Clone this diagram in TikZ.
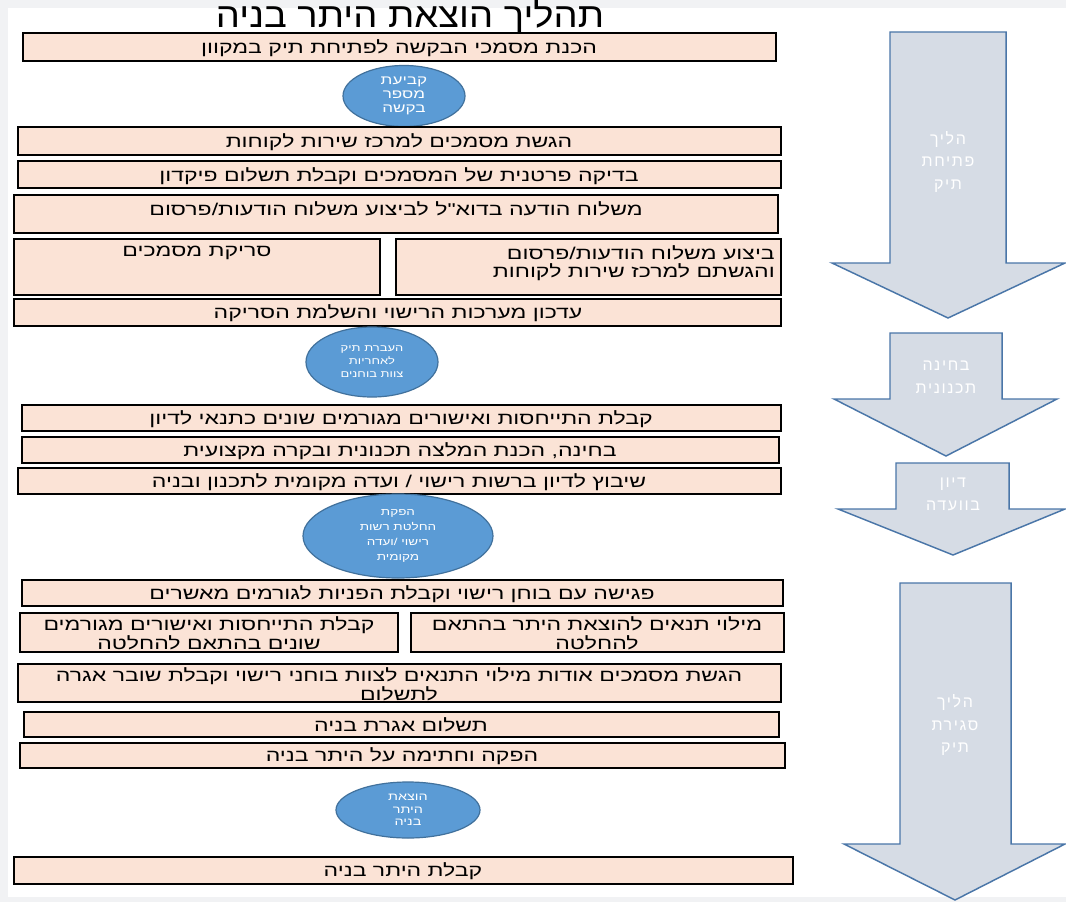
\documentclass[tikz,border=0pt]{standalone}
\usepackage{fontspec}
\setmainfont{Liberation Sans}
\newfontfamily\hebfont[Script=Hebrew,FakeStretch=1.35]{Liberation Sans}
\newfontfamily\titlefont[Script=Hebrew,FakeStretch=1.1]{Liberation Sans}
\newfontfamily\arrfont[Script=Hebrew,LetterSpace=10]{Liberation Sans}
\TeXXeTstate=1
\newcommand{\heb}[1]{\beginR #1\endR}
\usetikzlibrary{shapes.geometric}

\definecolor{boxfill}{HTML}{FBE3D6}
\definecolor{ovalfill}{HTML}{5B9BD5}
\definecolor{ovaldraw}{HTML}{41719C}
\definecolor{arrfill}{HTML}{D6DCE5}
\definecolor{arrdraw}{HTML}{4A76A8}
\definecolor{pagegray}{HTML}{F1F2F4}

\tikzset{
  px/.style 2 args={minimum width=#1*0.75pt, minimum height=#2*0.75pt},
  stepbox/.style={draw=black, line width=1.4pt, fill=boxfill},
  steptext/.style={font=\hebfont\fontsize{12.8}{14}\selectfont, align=center, inner sep=0pt},
  oval/.style={ellipse, draw=ovaldraw, line width=0.9pt, fill=ovalfill, text=white,
    align=center, inner sep=0pt},
  blockarrow/.style={draw=arrdraw, line width=1.1pt, fill=arrfill},
  arrtext/.style={font=\arrfont\fontsize{12}{17}\selectfont, text=white, align=center}
}

\begin{document}
\begin{tikzpicture}[x=0.75pt, y=-0.75pt, every node/.style={font=\hebfont}]
  % page
  \useasboundingbox (0,0) rectangle (1066,902);
  \fill[pagegray] (0,0) rectangle (1066,902);
  \fill[white] (8,8) rectangle (1066,897);

  % title
  \node (title) at (410,17) {\titlefont\fontsize{26}{30}\selectfont\heb{תהליך הוצאת היתר בניה}};

  % opening of the file
  \draw[stepbox] (23,33) rectangle (776,61);
  \node[steptext] (prep) at (399,48) {\heb{הכנת מסמכי הבקשה לפתיחת תיק במקוון}};

  \node[oval, px={122}{61}, font=\hebfont\fontsize{9.5}{10.5}\selectfont] (number) at (404,96)
    {\heb{קביעת}\\\heb{מספר}\\\heb{בקשה}};

  \draw[stepbox] (18,127) rectangle (781,155);
  \node[steptext] (submit) at (399,142) {\heb{הגשת מסמכים למרכז שירות לקוחות}};

  \draw[stepbox] (18,161) rectangle (781,188);
  \node[steptext] (check) at (399,176) {\heb{בדיקה פרטנית של המסמכים וקבלת תשלום פיקדון}};

  \draw[stepbox] (14,195) rectangle (778,233);
  \node[steptext] (mail) at (396,209) {\heb{משלוח הודעה בדוא"ל לביצוע משלוח הודעות/פרסום}};

  \draw[stepbox] (14,239) rectangle (380,295);
  \node[steptext] (scan) at (197,253) {\heb{סריקת מסמכים}};

  \draw[stepbox] (396,239) rectangle (781,295);
  \node[steptext, align=right, anchor=north east] (notice) at (775,245)
    {\heb{ביצוע משלוח הודעות/פרסום}\\\heb{והגשתם למרכז שירות לקוחות}};

  \draw[stepbox] (14,299) rectangle (781,326);
  \node[steptext] (update) at (398,313) {\heb{עדכון מערכות הרישוי והשלמת הסריקה}};

  % technical review
  \node[oval, px={132}{70}, font=\hebfont\fontsize{7.2}{9.8}\selectfont] (handover) at (372,362)
    {\heb{העברת תיק}\\\heb{לאחריות}\\\heb{צוות בוחנים}};

  \draw[stepbox] (22,405) rectangle (781,431);
  \node[steptext] (approvals) at (401,419) {\heb{קבלת התייחסות ואישורים מגורמים שונים כתנאי לדיון}};

  \draw[stepbox] (22,437) rectangle (779,463);
  \node[steptext] (review) at (400,451) {\heb{בחינה, הכנת המלצה תכנונית ובקרה מקצועית}};

  \draw[stepbox] (18,468) rectangle (781,494);
  \node[steptext] (schedule) at (399,482) {\heb{שיבוץ לדיון ברשות רישוי / ועדה מקומית לתכנון ובניה}};

  % committee
  \node[oval, px={190}{84}, font=\hebfont\fontsize{7.5}{11.2}\selectfont] (decision) at (398,536)
    {\heb{הפקת}\\\heb{החלטת רשות}\\\heb{רישוי /ועדה}\\\heb{מקומית}};

  % closing of the file
  \draw[stepbox] (22,580) rectangle (783,606);
  \node[steptext] (meeting) at (402,594) {\heb{פגישה עם בוחן רישוי וקבלת הפניות לגורמים מאשרים}};

  \draw[stepbox] (20,613) rectangle (398,652);
  \node[steptext] (consent) at (209,633) {\heb{קבלת התייחסות ואישורים מגורמים}\\\heb{שונים בהתאם להחלטה}};

  \draw[stepbox] (411,613) rectangle (784,652);
  \node[steptext] (terms) at (597,633) {\heb{מילוי תנאים להוצאת היתר בהתאם}\\\heb{להחלטה}};

  \draw[stepbox] (18,664) rectangle (781,702);
  \node[steptext] (docs) at (399,684)
    {\heb{הגשת מסמכים אודות מילוי התנאים לצוות בוחני רישוי וקבלת שובר אגרה}\\\heb{לתשלום}};

  \draw[stepbox] (24,712) rectangle (779,737);
  \node[steptext] (fee) at (401,725) {\heb{תשלום אגרת בניה}};

  \draw[stepbox] (20,743) rectangle (785,768);
  \node[steptext] (sign) at (402,756) {\heb{הפקה וחתימה על היתר בניה}};

  \node[oval, px={144}{56}, font=\hebfont\fontsize{8}{9.5}\selectfont] (issue) at (408,810)
    {\heb{הוצאת}\\\heb{היתר}\\\heb{בניה}};

  \draw[stepbox] (14,857) rectangle (793,884);
  \node[steptext] (permit) at (403,871) {\heb{קבלת היתר בניה}};

  % stage arrows
  \draw[blockarrow] (890,32) -- (1006,32) -- (1006,263) -- (1065,263) -- (948,318)
    -- (832,263) -- (890,263) -- cycle;
  \node[arrtext] (open) at (948,162) {\heb{הליך}\\\heb{פתיחת}\\\heb{תיק}};

  \draw[blockarrow] (890,333) -- (1002,333) -- (1002,399) -- (1057,399) -- (946,456)
    -- (834,399) -- (890,399) -- cycle;
  \node[arrtext] (tech) at (946,377) {\heb{בחינה}\\\heb{תכנונית}};

  \draw[blockarrow] (896,463) -- (1009,463) -- (1009,509) -- (1065,509) -- (953,555)
    -- (838,509) -- (896,509) -- cycle;
  \node[arrtext] (committee) at (953,494) {\heb{דיון}\\\heb{בוועדה}};

  \draw[blockarrow] (900,583) -- (1011,583) -- (1011,844) -- (1065,844) -- (955,900)
    -- (844,844) -- (900,844) -- cycle;
  \node[arrtext] (close) at (955,725) {\heb{הליך}\\\heb{סגירת}\\\heb{תיק}};
\end{tikzpicture}
\end{document}
